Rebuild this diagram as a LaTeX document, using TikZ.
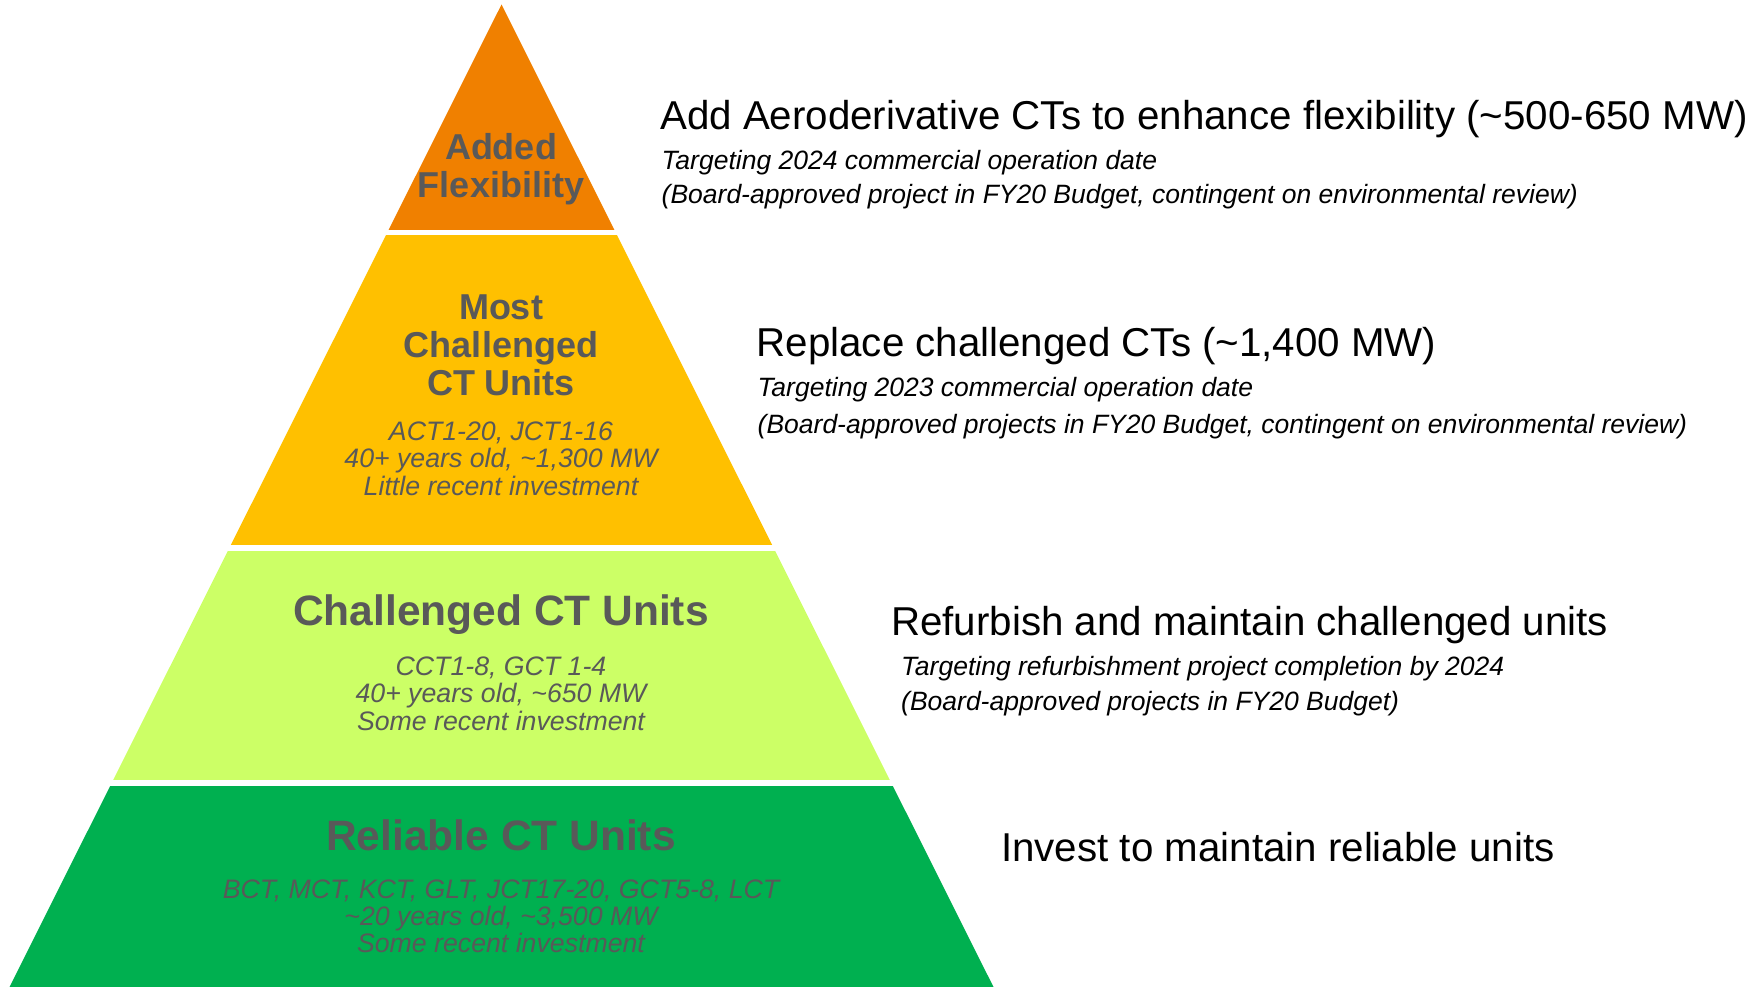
\documentclass[tikz,border=0pt]{standalone}
\usepackage{fontspec}
\setmainfont{Liberation Sans}
\definecolor{flexorange}{HTML}{F08000}
\definecolor{mostyellow}{HTML}{FFC000}
\definecolor{chalgreen}{HTML}{CCFF66}
\definecolor{relgreen}{HTML}{00B050}
\definecolor{unitgray}{HTML}{595959}
\tikzset{tiertext/.style={anchor=base, inner sep=0, text=unitgray},
  head/.style={tiertext, font=\bfseries\fontsize{36}{38}\selectfont},
  bighead/.style={tiertext, font=\bfseries\fontsize{42.5}{44}\selectfont},
  detail/.style={tiertext, font=\itshape\fontsize{26.7}{27}\selectfont},
  action/.style={anchor=base west, inner sep=0, font=\fontsize{40.3}{42}\selectfont},
  note/.style={anchor=base west, inner sep=0, font=\itshape\fontsize{26.5}{27}\selectfont}}

\begin{document}
\begin{tikzpicture}[x=1pt, y=-1pt]
    \useasboundingbox (0,0) rectangle (1763,987);
    % pyramid, cut into four tiers
    \begin{scope}
        \clip (501.5,4.5) -- (993.5,987) -- (9.5,987) -- cycle;
        \foreach \ytop/\ybot/\tcol in {4.5/229.5/flexorange, 235/545.3/mostyellow,
            550.7/779.8/chalgreen, 785.7/990/relgreen}
            \fill [\tcol] (0,\ytop) rectangle (1000,\ybot);
    \end{scope}
    % tier labels
    \foreach \ltext [count=\i] in {Added, Flexibility}
        \node [head] (flex-\i) at (501, {160+37*(\i-1)}) {\ltext};
    \foreach \ltext [count=\i] in {Most, Challenged, CT Units}
        \node [head] (most-\i) at (501, {319.3+38*(\i-1)}) {\ltext};
    \foreach \ltext [count=\i] in {{ACT1-20, JCT1-16},
        {40+ years old, \textasciitilde1,300 MW}, Little recent investment}
        \node [detail] (mostd-\i) at (501, {440.7+27.2*(\i-1)}) {\ltext};
    \node [bighead] (chal) at (501, 625) {Challenged CT Units};
    \foreach \ltext [count=\i] in {{CCT1-8, GCT 1-4},
        {40+ years old, \textasciitilde650 MW}, Some recent investment}
        \node [detail] (chald-\i) at (501, {675+27.5*(\i-1)}) {\ltext};
    \node [bighead] (rel) at (501, 850.7) {Reliable CT Units};
    \foreach \ltext [count=\i] in {{BCT, MCT, KCT, GLT, JCT17-20, GCT5-8, LCT},
        {\textasciitilde20 years old, \textasciitilde3,500 MW}, Some recent investment}
        \node [detail] (reld-\i) at (501, {898.3+27.2*(\i-1)}) {\ltext};
    % actions on the right
    \node [action] (act-1) at (660, 129.3)
        {Add Aeroderivative CTs to enhance flexibility (\textasciitilde500-650 MW)};
    \node [note] (act-1a) at (661.5, 170) {Targeting 2024 commercial operation date};
    \node [note] (act-1b) at (661.5, 204)
        {(Board-approved project in FY20 Budget, contingent on environmental review)};
    \node [action] (act-2) at (756.5, 356.7) {Replace challenged CTs (\textasciitilde1,400 MW)};
    \node [note] (act-2a) at (757.5, 396.7) {Targeting 2023 commercial operation date};
    \node [note] (act-2b) at (757.5, 433)
        {(Board-approved projects in FY20 Budget, contingent on environmental review)};
    \node [action] (act-3) at (891, 635) {Refurbish and maintain challenged units};
    \node [note] (act-3a) at (901, 675) {Targeting refurbishment project completion by 2024};
    \node [note] (act-3b) at (901, 710.7) {(Board-approved projects in FY20 Budget)};
    \node [action] (act-4) at (1001, 861.7) {Invest to maintain reliable units};
\end{tikzpicture}
\end{document}
